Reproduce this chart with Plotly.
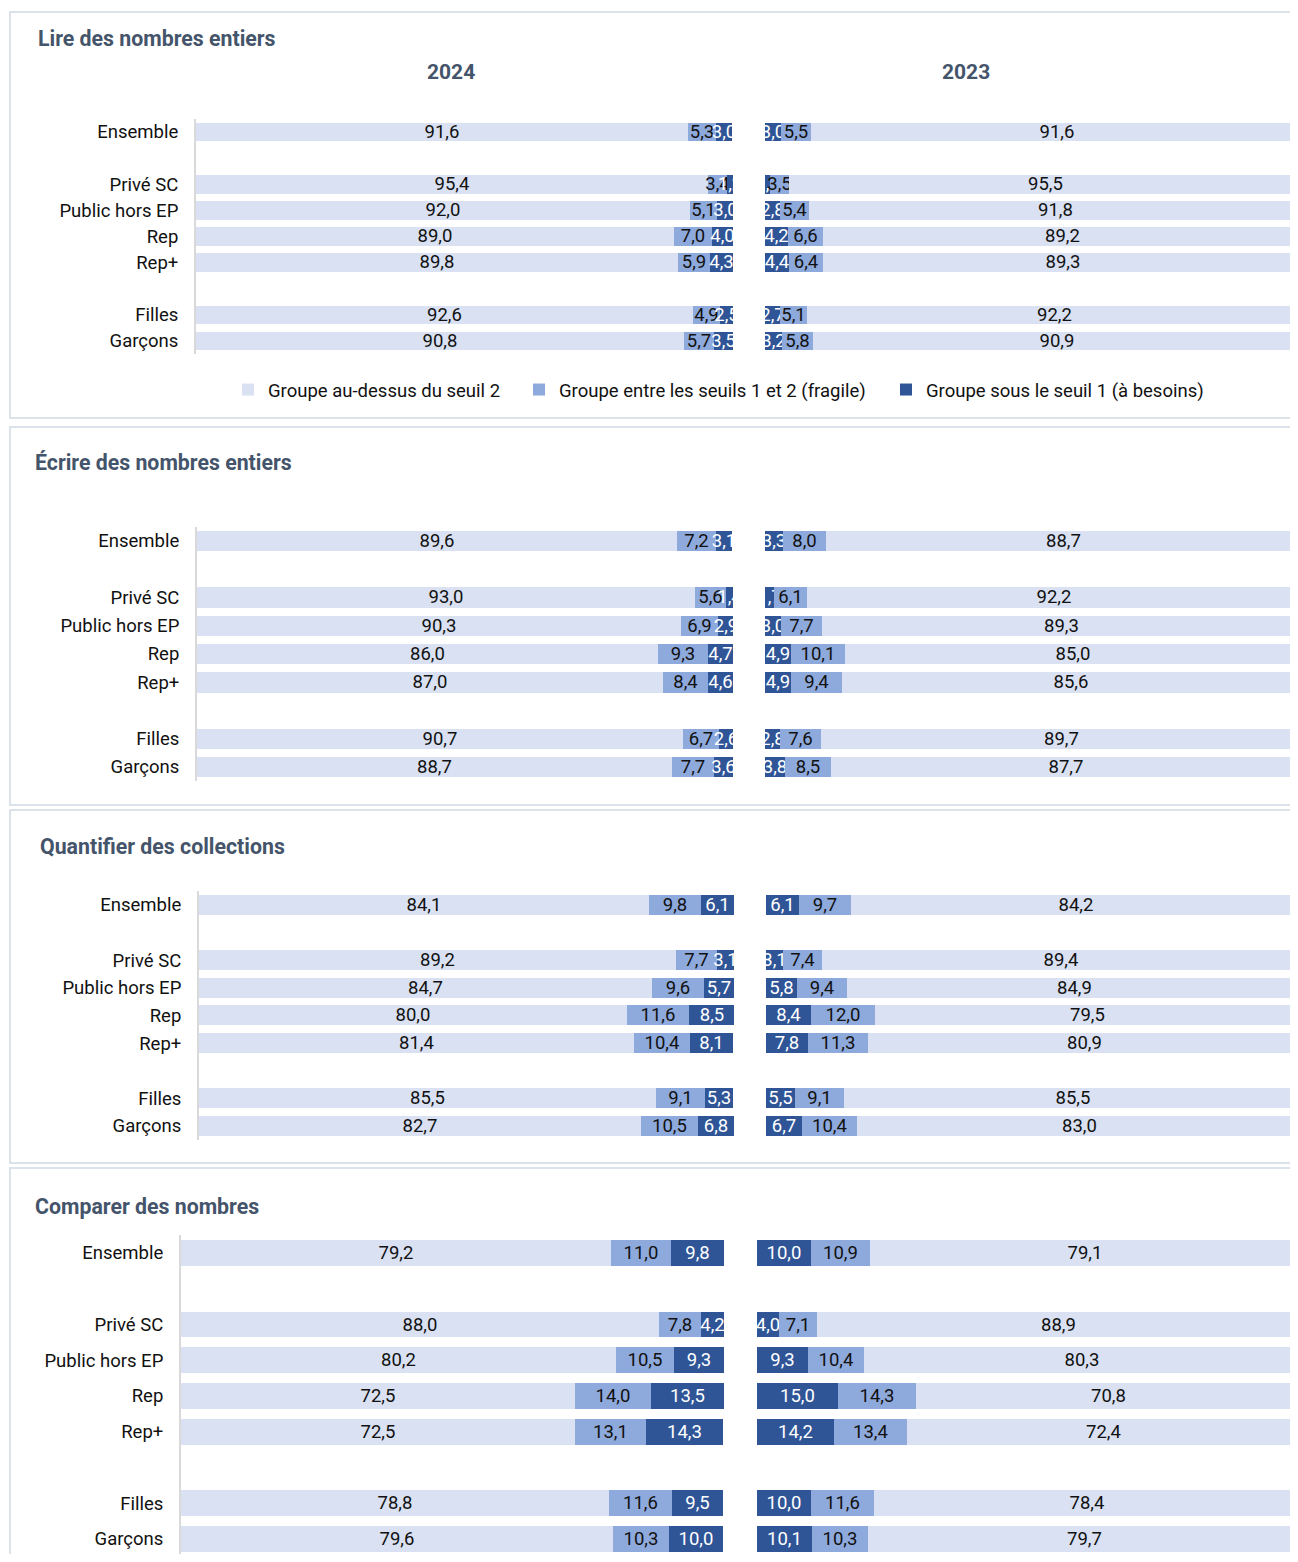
import plotly.graph_objects as go

# the page body has an 8px margin: draw on a smaller figure, keep reference pixel coords
OFF = 8
FW, FH = 1290, 1546

categories = ["Ensemble", "Privé SC", "Public hors EP", "Rep", "Rep+", "Filles", "Garçons"]
row_slots = [0, 2, 3, 4, 5, 7, 8]  # blank slots separate the groups

titles = ["Lire des nombres entiers", "Écrire des nombres entiers",
          "Quantifier des collections", "Comparer des nombres"]
years = ["2024", "2023"]
series_names = ["Groupe au-dessus du seuil 2",
                "Groupe entre les seuils 1 et 2 (fragile)",
                "Groupe sous le seuil 1 (à besoins)"]

# Lire des nombres entiers
lire_above_2024 = [91.6, 95.4, 92.0, 89.0, 89.8, 92.6, 90.8]
lire_fragile_2024 = [5.3, 3.4, 5.1, 7.0, 5.9, 4.9, 5.7]
lire_besoins_2024 = [3.0, 1.2, 3.0, 4.0, 4.3, 2.5, 3.5]
lire_above_2023 = [91.6, 95.5, 91.8, 89.2, 89.3, 92.2, 90.9]
lire_fragile_2023 = [5.5, 3.5, 5.4, 6.6, 6.4, 5.1, 5.8]
lire_besoins_2023 = [3.0, 1.0, 2.8, 4.2, 4.4, 2.7, 3.2]

# Écrire des nombres entiers
ecrire_above_2024 = [89.6, 93.0, 90.3, 86.0, 87.0, 90.7, 88.7]
ecrire_fragile_2024 = [7.2, 5.6, 6.9, 9.3, 8.4, 6.7, 7.7]
ecrire_besoins_2024 = [3.1, 1.4, 2.9, 4.7, 4.6, 2.6, 3.6]
ecrire_above_2023 = [88.7, 92.2, 89.3, 85.0, 85.6, 89.7, 87.7]
ecrire_fragile_2023 = [8.0, 6.1, 7.7, 10.1, 9.4, 7.6, 8.5]
ecrire_besoins_2023 = [3.3, 1.7, 3.0, 4.9, 4.9, 2.8, 3.8]

# Quantifier des collections
quant_above_2024 = [84.1, 89.2, 84.7, 80.0, 81.4, 85.5, 82.7]
quant_fragile_2024 = [9.8, 7.7, 9.6, 11.6, 10.4, 9.1, 10.5]
quant_besoins_2024 = [6.1, 3.1, 5.7, 8.5, 8.1, 5.3, 6.8]
quant_above_2023 = [84.2, 89.4, 84.9, 79.5, 80.9, 85.5, 83.0]
quant_fragile_2023 = [9.7, 7.4, 9.4, 12.0, 11.3, 9.1, 10.4]
quant_besoins_2023 = [6.1, 3.1, 5.8, 8.4, 7.8, 5.5, 6.7]

# Comparer des nombres
comp_above_2024 = [79.2, 88.0, 80.2, 72.5, 72.5, 78.8, 79.6]
comp_fragile_2024 = [11.0, 7.8, 10.5, 14.0, 13.1, 11.6, 10.3]
comp_besoins_2024 = [9.8, 4.2, 9.3, 13.5, 14.3, 9.5, 10.0]
comp_above_2023 = [79.1, 88.9, 80.3, 70.8, 72.4, 78.4, 79.7]
comp_fragile_2023 = [10.9, 7.1, 10.4, 14.3, 13.4, 11.6, 10.3]
comp_besoins_2023 = [10.0, 4.0, 9.3, 15.0, 14.2, 10.0, 10.1]

panel_data = [
    ((lire_above_2024, lire_fragile_2024, lire_besoins_2024),
     (lire_above_2023, lire_fragile_2023, lire_besoins_2023)),
    ((ecrire_above_2024, ecrire_fragile_2024, ecrire_besoins_2024),
     (ecrire_above_2023, ecrire_fragile_2023, ecrire_besoins_2023)),
    ((quant_above_2024, quant_fragile_2024, quant_besoins_2024),
     (quant_above_2023, quant_fragile_2023, quant_besoins_2023)),
    ((comp_above_2024, comp_fragile_2024, comp_besoins_2024),
     (comp_above_2023, comp_fragile_2023, comp_besoins_2023)),
]

colors = ["#D9E1F2", "#8EA9DB", "#2F5597"]
text_colors = ["#111111", "#111111", "#FFFFFF"]
TITLE_COLOR = "#44546A"
BORDER = "#DCE2EA"
FONT = "Roboto"

# pixel geometry of each panel (box, title, plot areas, first/last bar centres)
panels = [
    dict(box=(10, 12, 418), title=(36, 38), lx=(196, 733), rx=(765, 1298), rows=(132, 341)),
    dict(box=(10, 427, 805), title=(33, 462), lx=(197, 733), rx=(765, 1298), rows=(541, 767)),
    dict(box=(10, 810, 1163), title=(38, 846), lx=(199, 734), rx=(766, 1298), rows=(905, 1126)),
    dict(box=(10, 1168, 1600), title=(33, 1206), lx=(181, 724), rx=(757, 1298), rows=(1253, 1539)),
]
legend_text_x = [268, 559, 926]


def px(x):
    return (x - OFF) / FW


def py(y):
    return 1 - (y - OFF) / FH


fig = go.Figure()
layout_axes = {}
shapes = []
annotations = []
legend_names = ["legend", "legend2", "legend3"]

for p, geo in enumerate(panels):
    y_first, y_last = geo["rows"]
    step = (y_last - y_first) / 8
    top_px = y_first - step / 2
    bot_px = min(y_last + step / 2, OFF + FH)
    ydom = [py(bot_px), py(top_px)]
    yrange = [(bot_px - y_first) / step, (top_px - y_first) / step]
    lw = geo["lx"][1] - geo["lx"][0]
    rw = geo["rx"][1] - geo["rx"][0]

    for side in range(2):
        n = 2 * p + side + 1
        xa, ya = f"x{n}", f"y{n}"
        values = list(panel_data[p][side])
        order = [0, 1, 2] if side == 0 else [2, 1, 0]
        for k in order:
            fig.add_trace(go.Bar(
                y=row_slots,
                x=values[k],
                orientation="h",
                name=series_names[k],
                marker=dict(color=colors[k], line=dict(width=0)),
                width=0.72,
                texttemplate="%{x:.1f}",
                textposition="inside",
                insidetextanchor="middle",
                textangle=0,
                textfont=dict(color=text_colors[k], size=18.5, family=FONT),
                xaxis=xa, yaxis=ya,
                showlegend=(p == 0 and side == 0),
                legend=legend_names[k],
                hoverinfo="skip",
            ))

        dom_x = geo["lx"] if side == 0 else geo["rx"]
        xrange = [0, 100] if side == 0 else [0, rw / lw * 100]
        layout_axes[f"xaxis{n}"] = dict(
            domain=[px(dom_x[0]), min(px(dom_x[1]), 1)], range=xrange, anchor=ya,
            showticklabels=False, showgrid=False, zeroline=False, showline=False,
        )
        layout_axes[f"yaxis{n}"] = dict(
            domain=ydom, range=yrange, anchor=xa,
            tickvals=row_slots, ticktext=categories if side == 0 else None,
            showticklabels=(side == 0), ticks="", ticklabelstandoff=12,
            tickfont=dict(size=18.5, color="#111111", family=FONT),
            showgrid=False, zeroline=False,
            showline=(side == 0), linecolor="#D9D9D9", linewidth=2,
        )

    bx, by0, by1 = geo["box"]
    shapes.append(dict(type="rect", xref="paper", yref="paper",
                       x0=px(bx), x1=px(1320), y0=py(by1), y1=py(by0),
                       line=dict(color=BORDER, width=2), fillcolor="rgba(0,0,0,0)",
                       layer="below"))
    tx, ty = geo["title"]
    annotations.append(dict(text=f"<b>{titles[p]}</b>", xref="paper", yref="paper",
                            x=px(tx), y=py(ty), xanchor="left", yanchor="middle",
                            showarrow=False,
                            font=dict(size=21.3, color=TITLE_COLOR, family=FONT)))

for yr, cx in zip(years, [451, 966]):
    annotations.append(dict(text=f"<b>{yr}</b>", xref="paper", yref="paper",
                            x=px(cx), y=py(72), xanchor="center", yanchor="middle",
                            showarrow=False,
                            font=dict(size=21, color=TITLE_COLOR, family=FONT)))

legends = {}
for name, tx in zip(legend_names, legend_text_x):
    legends[name] = dict(orientation="h", x=px(tx - 40), y=py(390),
                         xanchor="left", yanchor="middle",
                         font=dict(size=18.5, family=FONT, color="#111111"),
                         bgcolor="rgba(0,0,0,0)")

fig.update_layout(
    width=FW, height=FH,
    margin=dict(l=0, r=0, t=0, b=0),
    paper_bgcolor="white", plot_bgcolor="rgba(0,0,0,0)",
    barmode="stack", bargap=0,
    separators=", ",
    uniformtext=dict(minsize=18.5, mode="show"),
    font=dict(family=FONT, color="#111111"),
    showlegend=True,
    shapes=shapes,
    annotations=annotations,
    **legends,
    **layout_axes,
)

fig.write_html("out.html")
